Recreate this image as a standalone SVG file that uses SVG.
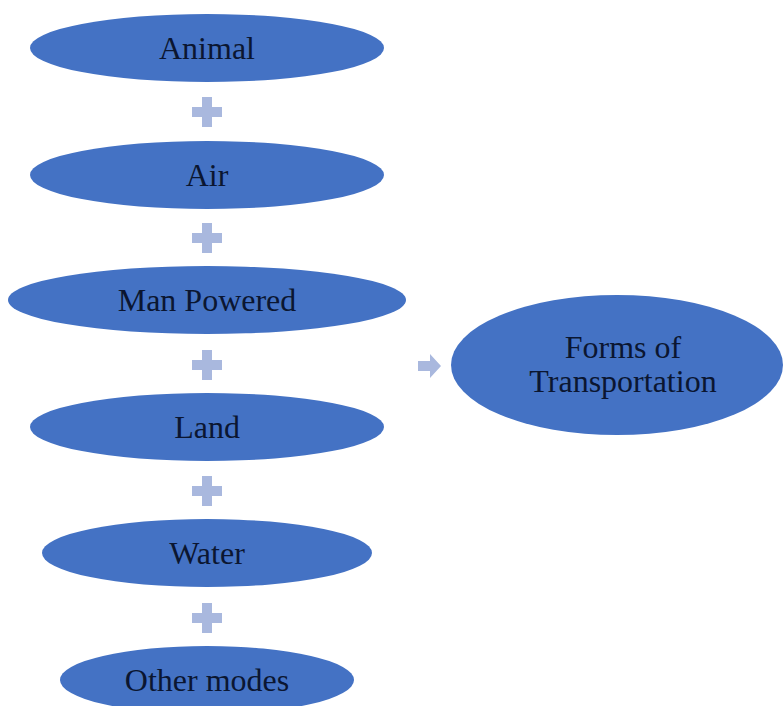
<svg xmlns="http://www.w3.org/2000/svg" width="784" height="706" viewBox="0 0 784 706">
<defs>
<style>
.n{fill:#4472C4;}
.t{font-family:"Liberation Serif","Times New Roman",serif;font-size:32px;fill:#0b1631;text-anchor:middle;}
.p{fill:#A9B8DE;}
</style>
<path id="plus" class="p" d="M-5,-15h10v10h10v10h-10v10h-10v-10h-10v-10h10z"/>
</defs>
<rect width="784" height="706" fill="#fff"/>
<g id="connectors">
<use href="#plus" x="207" y="112"/>
<use href="#plus" x="207" y="238"/>
<use href="#plus" x="207" y="365"/>
<use href="#plus" x="207" y="491"/>
<use href="#plus" x="207" y="618"/>
<path class="p" d="M418,361h12v-7l11,12l-11,12v-7h-12z"/>
</g>
<g id="animal"><ellipse class="n" cx="207" cy="48" rx="177" ry="34"/><text class="t" x="207" y="59">Animal</text></g>
<g id="air"><ellipse class="n" cx="207" cy="175" rx="177" ry="34"/><text class="t" x="207" y="186">Air</text></g>
<g id="man"><ellipse class="n" cx="207" cy="300" rx="199" ry="34"/><text class="t" x="207" y="311">Man Powered</text></g>
<g id="land"><ellipse class="n" cx="207" cy="427" rx="177" ry="34"/><text class="t" x="207" y="438">Land</text></g>
<g id="water"><ellipse class="n" cx="207" cy="553" rx="165" ry="34"/><text class="t" x="207" y="564">Water</text></g>
<g id="other"><ellipse class="n" cx="207" cy="680" rx="147" ry="34"/><text class="t" x="207" y="691">Other modes</text></g>
<g id="forms"><ellipse class="n" cx="617" cy="365" rx="166" ry="70"/><text class="t" x="623" y="358">Forms of</text><text class="t" x="623" y="392">Transportation</text></g>
</svg>
